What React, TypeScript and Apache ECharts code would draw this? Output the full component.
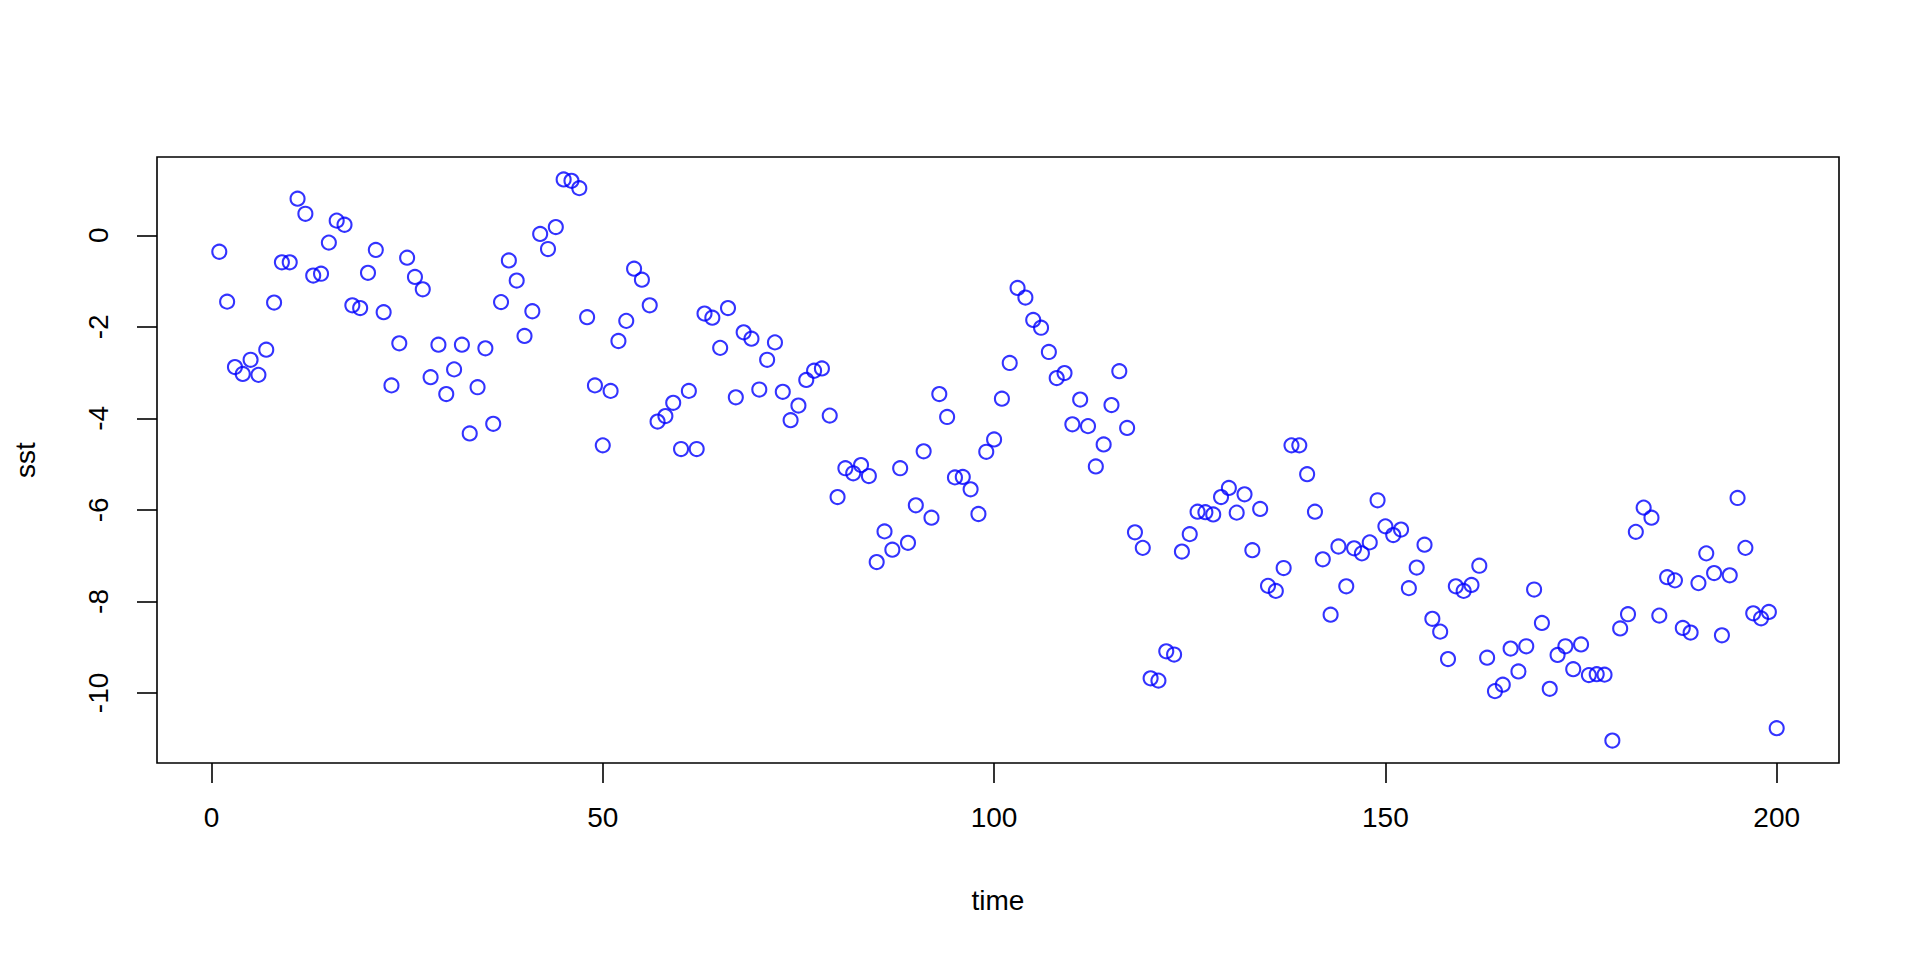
import React, { useEffect, useRef } from "react";
import * as echarts from "echarts";

// sst values for time = 1..200
const sstValues: number[] = [
  -0.36, -1.45, -2.88, -3.03, -2.72, -3.05, -2.50, -1.47, -0.59, -0.59,
  0.80, 0.47, -0.88, -0.84, -0.16, 0.32, 0.23, -1.53, -1.59, -0.82,
  -0.32, -1.68, -3.28, -2.36, -0.49, -0.91, -1.18, -3.10, -2.39, -3.47,
  -2.93, -2.39, -4.33, -3.32, -2.47, -4.12, -1.46, -0.55, -0.99, -2.20,
  -1.66, 0.03, -0.30, 0.18, 1.22, 1.19, 1.03, -1.79, -3.28, -4.59,
  -3.40, -2.31, -1.87, -0.73, -0.97, -1.53, -4.07, -3.95, -3.66, -4.67,
  -3.40, -4.67, -1.71, -1.80, -2.46, -1.59, -3.54, -2.12, -2.26, -3.37,
  -2.72, -2.34, -3.42, -4.04, -3.72, -3.16, -2.96, -2.91, -3.94, -5.72,
  -5.09, -5.20, -5.02, -5.26, -7.14, -6.47, -6.87, -5.09, -6.72, -5.90,
  -4.72, -6.17, -3.47, -3.97, -5.29, -5.28, -5.55, -6.09, -4.73, -4.46,
  -3.57, -2.79, -1.15, -1.36, -1.85, -2.02, -2.55, -3.12, -3.01, -4.13,
  -3.59, -4.17, -5.05, -4.57, -3.71, -2.97, -4.21, -6.49, -6.83, -9.68,
  -9.73, -9.09, -9.16, -6.91, -6.53, -6.04, -6.05, -6.10, -5.72, -5.52,
  -6.06, -5.66, -6.88, -5.98, -7.66, -7.77, -7.27, -4.59, -4.59, -5.22,
  -6.04, -7.08, -8.29, -6.80, -7.67, -6.84, -6.95, -6.71, -5.79, -6.36,
  -6.55, -6.43, -7.71, -7.26, -6.76, -8.38, -8.66, -9.26, -7.67, -7.77,
  -7.64, -7.22, -9.23, -9.96, -9.82, -9.03, -9.53, -8.98, -7.74, -8.47,
  -9.91, -9.17, -8.98, -9.48, -8.94, -9.61, -9.59, -9.60, -11.04, -8.59,
  -8.28, -6.48, -5.95, -6.17, -8.31, -7.47, -7.54, -8.58, -8.68, -7.60,
  -6.95, -7.38, -8.74, -7.43, -5.74, -6.83, -8.26, -8.37, -8.23, -10.77,
];

const xTicks: number[] = [0, 50, 100, 150, 200];
const yTicks: number[] = [-10, -8, -6, -4, -2, 0];
const xLabel = "time";
const yLabel = "sst";

const FONT = "'Liberation Sans', Arial, Helvetica, sans-serif";

// R-style 4% axis range extension
const rMin = (e: { min: number; max: number }) => e.min - 0.04 * (e.max - e.min);
const rMax = (e: { min: number; max: number }) => e.max + 0.04 * (e.max - e.min);

export default function App() {
  const ref = useRef<HTMLDivElement>(null);

  useEffect(() => {
    if (!ref.current) return;
    const chart = echarts.init(ref.current, undefined, { renderer: "svg" });
    const points = sstValues.map((v, i) => [i + 1, v]);
    chart.setOption({
      animation: false,
      backgroundColor: "#ffffff",
      grid: {
        left: 157,
        right: 81,
        top: 157,
        bottom: 197,
        show: true,
        borderColor: "#000000",
        borderWidth: 1.6,
        backgroundColor: "transparent",
      },
      xAxis: {
        type: "value",
        min: rMin,
        max: rMax,
        name: xLabel,
        nameLocation: "middle",
        nameGap: 123,
        nameTextStyle: { fontFamily: FONT, fontSize: 28, color: "#000" },
        axisLine: { show: false, onZero: false },
        splitLine: { show: false },
        axisTick: {
          show: true,
          inside: false,
          length: 20,
          customValues: xTicks,
          lineStyle: { color: "#000", width: 1.6 },
        },
        axisLabel: {
          show: true,
          customValues: xTicks,
          margin: 40,
          fontFamily: FONT,
          fontSize: 28,
          color: "#000",
          showMinLabel: true,
          showMaxLabel: true,
        },
      },
      yAxis: {
        type: "value",
        min: rMin,
        max: rMax,
        name: yLabel,
        nameLocation: "middle",
        nameGap: 118,
        nameRotate: 90,
        nameTextStyle: { fontFamily: FONT, fontSize: 28, color: "#000" },
        axisLine: { show: false, onZero: false },
        splitLine: { show: false },
        axisTick: {
          show: true,
          inside: false,
          length: 20,
          customValues: yTicks,
          lineStyle: { color: "#000", width: 1.6 },
        },
        axisLabel: {
          show: true,
          customValues: yTicks,
          rotate: 90,
          margin: 45,
          fontFamily: FONT,
          fontSize: 28,
          color: "#000",
          showMinLabel: true,
          showMaxLabel: true,
        },
      },
      series: [
        {
          type: "scatter",
          data: points,
          symbol: "circle",
          symbolSize: 14,
          itemStyle: {
            color: "rgba(0,0,0,0)",
            borderColor: "#0000FF",
            borderWidth: 2.1,
          },
          emphasis: { disabled: true },
        },
      ],
    });
    return () => chart.dispose();
  }, []);

  return (
    <div
      ref={ref}
      style={{ position: "fixed", left: 0, top: 0, width: 1920, height: 960, background: "#fff" }}
    />
  );
}
